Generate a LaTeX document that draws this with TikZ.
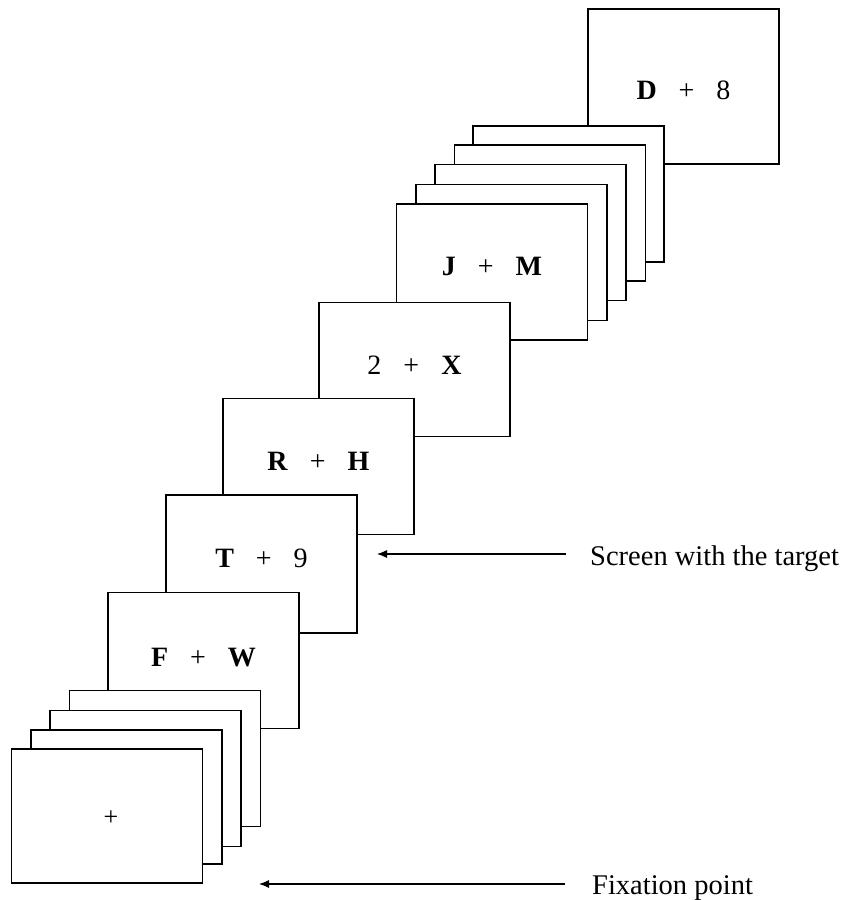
\documentclass[tikz,border=0pt]{standalone}
\usepackage{fontspec}
\setmainfont{Liberation Serif}
\usetikzlibrary{arrows.meta}
\newcommand{\stimpair}[2]{#1\hspace{22pt}+\hspace{22pt}#2}
\begin{document}
\begin{tikzpicture}[x=1pt,y=-1pt,
  screenbox/.style={draw=black, fill=white, line width=1.1pt, inner sep=0pt,
    minimum width=191pt, minimum height=136pt},
  stimtxt/.style={anchor=base, inner sep=0pt, font=\fontsize{28}{34}\selectfont},
  lbl/.style={anchor=base west, inner sep=0pt, font=\fontsize{28.5}{34}\selectfont},
  pointer/.style={line width=1.1pt, -{Latex[length=10pt,width=8pt]}}]
\useasboundingbox (0,0) rectangle (844,900);

% back to front
\node[screenbox, minimum height=155pt] (d8) at (683.5,86.5) {};
\node[screenbox] (s5) at (568.5,194) {};
\node[screenbox] (s4) at (550,213) {};
\node[screenbox] (s3) at (530.5,232.5) {};
\node[screenbox] (s2) at (511.5,252.5) {};
\node[screenbox] (jm) at (492,272) {};
\node[screenbox, minimum height=134pt] (tx) at (414.5,369.5) {};
\node[screenbox] (rh) at (318.5,466.5) {};
\node[screenbox, minimum height=138pt] (t9) at (261.5,564) {};
\node[screenbox] (fw) at (203.5,660.5) {};
\node[screenbox] (f4) at (165,758.5) {};
\node[screenbox] (f3) at (145.5,778.5) {};
\node[screenbox, minimum height=134pt] (f2) at (126.5,797) {};
\node[screenbox, minimum height=134pt] (f1) at (107,816) {};

% stimulus texts
\node[stimtxt] (d8t) at (683.5,99) {\stimpair{\textbf{D}}{8}};
\node[stimtxt] (jmt) at (492,275) {\stimpair{\textbf{J}}{\textbf{M}}};
\node[stimtxt] (txt) at (414.5,374) {\stimpair{2}{\textbf{X}}};
\node[stimtxt] (rht) at (318.5,470) {\stimpair{\textbf{R}}{\textbf{H}}};
\node[stimtxt] (t9t) at (261.5,567) {\stimpair{\textbf{T}}{9}};
\node[stimtxt] (fwt) at (203.5,666) {\stimpair{\textbf{F}}{\textbf{W}}};
\node[anchor=center, inner sep=0pt, font=\fontsize{26}{30}\selectfont] (fix) at (111,818) {+};

% labels and arrows
\node[lbl] (lab1) at (590,565) {Screen with the target};
\node[lbl] (lab2) at (592,894) {Fixation point};
\coordinate (a1s) at (566,554);
\coordinate (a1e) at (377,554);
\coordinate (a2s) at (565,884);
\coordinate (a2e) at (259,884);
\draw[pointer] (a1s) -- (a1e);
\draw[pointer] (a2s) -- (a2e);
\end{tikzpicture}
\end{document}
